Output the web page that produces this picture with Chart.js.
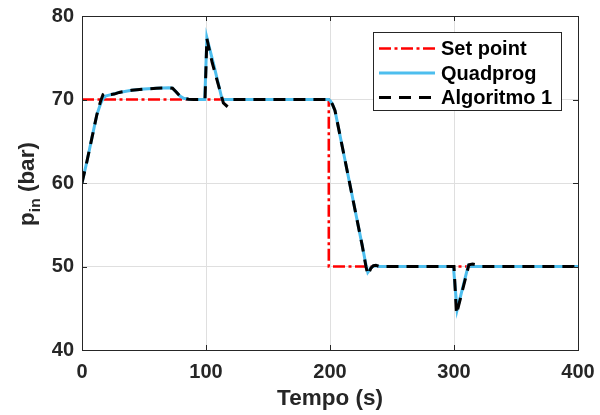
<!DOCTYPE html>
<html>
<head>
<meta charset="utf-8">
<script src="https://cdn.jsdelivr.net/npm/chart.js@4"></script>
<style>
  html, body { margin: 0; padding: 0; background: #fff; }
  #box { width: 600px; height: 415px; }
</style>
</head>
<body>
<div id="box"><canvas id="grafico" width="600" height="415"></canvas></div>
<script>
// eixos
const xTicks = [0, 100, 200, 300, 400];
const yTicks = [40, 50, 60, 70, 80];

// set point
const tempoSet = [0, 199, 199, 400];
const pinSet = [70, 70, 50, 50];

// Quadprog
const tempoQuad = [0, 4, 8, 12, 15, 17, 19, 21, 24, 30, 40, 50, 60, 70, 73, 76, 79, 82, 86, 90,
  99, 100.7, 106.5, 113, 120, 199, 200.5, 202, 204, 215, 226, 229, 230.5, 232, 234, 237, 240,
  299.5, 302.5, 311.5, 314, 400];
const pinQuad = [60, 62.6, 65.4, 68.2, 69.5, 70.1, 70.4, 70.5, 70.6, 70.85, 71.1, 71.25, 71.35, 71.4, 71.35, 70.9, 70.4, 70.15, 70.03, 70,
  70, 77.4, 74.0, 70.0, 70, 70, 69.8, 69.4, 68.7, 60.6, 52.5, 50.2, 49.3, 49.6, 50.0, 50.1, 50,
  50, 44.8, 50.1, 50, 50];

// Algoritmo 1
const tempoAlg = [0, 4, 8, 12, 15, 17, 19.5, 21, 23, 26, 30, 40, 50, 60, 70, 73, 76, 79, 82, 86, 90,
  99.2, 100.7, 105, 114, 116.5, 119.5, 122, 199, 200.5, 202, 204, 215, 226, 229, 230.5, 233, 235, 237, 240,
  300, 302, 312, 315, 318, 321, 400];
const pinAlg = [60, 62.6, 65.4, 68.2, 69.8, 70.6, 70.85, 70.75, 70.6, 70.65, 70.85, 71.1, 71.25, 71.35, 71.4, 71.35, 70.9, 70.4, 70.15, 70.03, 70,
  70, 77.3, 74.4, 69.6, 69.25, 69.8, 70, 70, 69.8, 69.4, 68.7, 60.6, 52.5, 50.0, 49.0, 49.8, 50.1, 50.15, 50,
  50, 44.3, 50.2, 50.3, 50.2, 50, 50];

const FONTE = '"Liberation Sans", Arial, Helvetica, sans-serif';
const CINZA = '#262626';
const pts = (xs, ys) => xs.map((x, i) => ({ x, y: ys[i] }));

const series = [
  { label: 'Set point', data: pts(tempoSet, pinSet), color: '#ff0000', width: 2.5, dash: [12, 3.5, 3, 3.5], order: 3 },
  { label: 'Quadprog', data: pts(tempoQuad, pinQuad), color: '#4dbeee', width: 3, dash: [], order: 2 },
  { label: 'Algoritmo 1', data: pts(tempoAlg, pinAlg), color: '#000000', width: 3, dash: [12, 8], order: 1 },
];

// moldura, ticks para dentro, rotulos dos eixos e legenda (estilo MATLAB)
const moldura = {
  id: 'moldura',
  afterDraw(chart) {
    const { ctx, chartArea: a, scales } = chart;
    ctx.save();
    ctx.strokeStyle = CINZA;
    ctx.lineWidth = 1;
    ctx.setLineDash([]);
    ctx.strokeRect(Math.round(a.left) + 0.5, Math.round(a.top) + 0.5,
      Math.round(a.right - a.left), Math.round(a.bottom - a.top));
    ctx.beginPath();
    for (const v of xTicks) {
      const px = Math.round(scales.x.getPixelForValue(v)) + 0.5;
      ctx.moveTo(px, a.bottom); ctx.lineTo(px, a.bottom - 5);
      ctx.moveTo(px, a.top); ctx.lineTo(px, a.top + 5);
    }
    for (const v of yTicks) {
      const py = Math.round(scales.y.getPixelForValue(v)) + 0.5;
      ctx.moveTo(a.left, py); ctx.lineTo(a.left + 5, py);
      ctx.moveTo(a.right, py); ctx.lineTo(a.right - 5, py);
    }
    ctx.stroke();

    // eixo x
    ctx.fillStyle = CINZA;
    ctx.font = 'bold 22.5px ' + FONTE;
    ctx.textAlign = 'center';
    ctx.textBaseline = 'alphabetic';
    ctx.fillText('Tempo (s)', (a.left + a.right) / 2, 405);

    // eixo y com subscrito
    ctx.save();
    ctx.translate(34, (a.top + a.bottom) / 2 + 1);
    ctx.rotate(-Math.PI / 2);
    ctx.textAlign = 'left';
    ctx.font = 'bold 22.5px ' + FONTE;
    const wp = ctx.measureText('p').width;
    const wr = ctx.measureText(' (bar)').width;
    ctx.font = 'bold 15.5px ' + FONTE;
    const wi = ctx.measureText('in').width;
    let x0 = -(wp + wi + wr) / 2;
    ctx.font = 'bold 22.5px ' + FONTE;
    ctx.fillText('p', x0, 0);
    ctx.font = 'bold 15.5px ' + FONTE;
    ctx.fillText('in', x0 + wp, 6);
    ctx.font = 'bold 22.5px ' + FONTE;
    ctx.fillText(' (bar)', x0 + wp + wi, 0);
    ctx.restore();

    // legenda
    const lx = 373.5, ly = 32.5, lw = 188, lh = 78;
    ctx.fillStyle = '#ffffff';
    ctx.fillRect(lx, ly, lw, lh);
    ctx.strokeStyle = CINZA;
    ctx.strokeRect(lx, ly, lw, lh);
    const rows = [48.5, 73, 97.5];
    ctx.font = 'bold 20px ' + FONTE;
    ctx.textAlign = 'left';
    ctx.textBaseline = 'middle';
    series.forEach((s, i) => {
      ctx.beginPath();
      ctx.strokeStyle = s.color;
      ctx.lineWidth = s.width;
      ctx.setLineDash(s.dash);
      ctx.moveTo(379, rows[i]);
      ctx.lineTo(435, rows[i]);
      ctx.stroke();
      ctx.setLineDash([]);
      ctx.fillStyle = '#000';
      ctx.fillText(s.label, 441, rows[i] + 1);
    });
    ctx.restore();
  },
};

new Chart(document.getElementById('grafico'), {
  type: 'line',
  data: {
    datasets: series.map((s) => ({
      label: s.label,
      data: s.data,
      borderColor: s.color,
      backgroundColor: s.color,
      borderWidth: s.width,
      borderDash: s.dash,
      pointRadius: 0,
      tension: 0,
      fill: false,
      order: s.order,
    })),
  },
  options: {
    responsive: false,
    animation: false,
    devicePixelRatio: 1,
    layout: { padding: { left: 0, right: 22, top: 16, bottom: 0 } },
    plugins: { legend: { display: false }, tooltip: { enabled: false } },
    scales: {
      x: {
        type: 'linear',
        min: 0, max: 400,
        afterFit: (s) => { s.height = 65; s.paddingLeft = 0; s.paddingRight = 0; },
        afterBuildTicks: (s) => { s.ticks = xTicks.map((v) => ({ value: v })); },
        grid: { color: '#dfdfdf', lineWidth: 1, drawTicks: false },
        border: { display: false },
        ticks: { padding: 10, color: CINZA, font: { family: FONTE, size: 20, weight: 'bold' } },
      },
      y: {
        type: 'linear',
        min: 40, max: 80,
        afterFit: (s) => { s.width = 82; s.paddingTop = 0; s.paddingBottom = 0; },
        afterBuildTicks: (s) => { s.ticks = yTicks.map((v) => ({ value: v })); },
        grid: { color: '#dfdfdf', lineWidth: 1, drawTicks: false },
        border: { display: false },
        ticks: { padding: 8, color: CINZA, font: { family: FONTE, size: 20, weight: 'bold' } },
      },
    },
  },
  plugins: [moldura],
});
</script>
</body>
</html>
